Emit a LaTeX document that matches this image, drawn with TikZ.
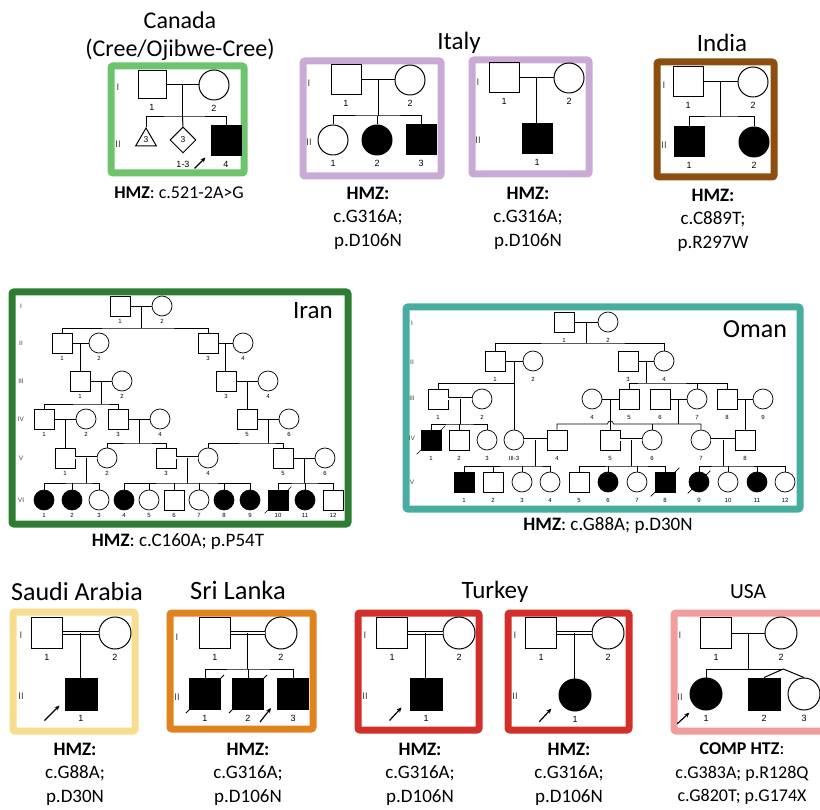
\documentclass[tikz,border=0pt]{standalone}
\usepackage{fontspec}
\setmainfont{Carlito}
\newfontfamily\pedfont{Liberation Sans}
\usetikzlibrary{arrows.meta,calc,positioning,shapes.geometric}
\definecolor{creegreen}{HTML}{6DC46D}
\definecolor{lilac}{HTML}{C8AAD5}
\definecolor{rust}{HTML}{8C4F10}
\definecolor{irangreen}{HTML}{2E7D32}
\definecolor{omanteal}{HTML}{47AE9F}
\definecolor{sand}{HTML}{F9DD8E}
\definecolor{amber}{HTML}{E0821E}
\definecolor{turkred}{HTML}{D22F2A}
\definecolor{rose}{HTML}{F29C9C}
\tikzset{
  countrybox/.style={line width=7pt, rounded corners=2pt},
  country/.style={font=\fontsize{25}{28}\selectfont, inner sep=0pt},
  mut/.style={font=\fontsize{19}{23.5}\selectfont, align=center, inner sep=0pt},
  ind/.style={draw, inner sep=0pt, line width=1pt},
  male/.style={ind, rectangle, minimum size=#1},
  male/.default=30pt,
  female/.style={ind, circle, minimum size=#1},
  female/.default=30pt,
  smale/.style={male=20pt},
  sfemale/.style={female=20pt},
  aff/.style={fill=black},
  unaff/.style={fill=white},
  num/.style={font=\pedfont\fontsize{9}{10}\selectfont, inner sep=1pt, yshift=-4pt},
  lb/.style={label={[num]below:#1}},
  gen/.style={font=\pedfont\fontsize{9.5}{10}\selectfont, text=black!75, inner sep=0pt},
  pline/.style={line width=1pt},
  consang/.style={double, double distance=2.2pt, line width=0.8pt},
  proband/.style={-{Stealth[length=5pt,width=4.5pt]}, line width=1.2pt},
  deceased/.style={line width=1pt}
}
\begin{document}
\begin{tikzpicture}[x=1pt,y=-1pt]
  \useasboundingbox (0,0) rectangle (820,810);

  % Canada
  \node[country, font=\fontsize{24}{26}\selectfont] (tCanada) at (180,20) {Canada};
  \node[country, font=\fontsize{24}{26}\selectfont] (tCree) at (180,50) {(Cree/Ojibwe-Cree)};
  \draw[countrybox, creegreen] (111,66) rectangle (244,173);
  \node[gen] (caGI) at (118,87) {I};
  \node[gen] (caGII) at (118,144) {II};
  \node[male=28pt, lb=1] (ca1) at (152,85) {};
  \node[female, lb=2] (ca2) at (214,85) {};
  \node[ind, regular polygon, regular polygon sides=3, minimum size=24pt, font=\pedfont\fontsize{8.5}{9}\selectfont] (caT) at (146,140) {3};
  \node[ind, diamond, aspect=1, minimum size=26pt, font=\pedfont\fontsize{8.5}{9}\selectfont,
        label={[num,yshift=-3pt]below:1-3}] (caD) at (183,140) {3};
  \node[male, aff, lb=4] (ca4) at (226,141) {};
  \draw[pline] (ca1) -- (ca2);
  \coordinate (caM) at ($(ca1.east)!.5!(ca2.west)$);
  \draw[pline] (caM) -- ++(0,32) coordinate (caS);
  \draw[pline] (caT.north) |- (caS) -| (ca4.north);
  \draw[pline] (caS) -- (caD.north);
  \draw[proband] ($(ca4.south west)+(-16,12)$) -- ($(ca4.south west)+(-5,1)$);
  \node[mut, font=\fontsize{18}{20}\selectfont] (mCanada) at (179,193) {\textbf{HMZ}: c.521-2A>G};

  % Italy
  \node[country] (tItaly) at (459,43) {Italy};
  \draw[countrybox, lilac] (303,61) rectangle (441,176);
  \node[gen] (itGI) at (309,83) {I};
  \node[gen] (itGII) at (309,142) {II};
  \node[male, lb=1] (it1) at (346,80) {};
  \node[female, lb=2] (it2) at (410,80) {};
  \node[female, lb=1] (it3) at (333,140) {};
  \node[female, aff, lb=2] (it4) at (377,140) {};
  \node[male, aff, lb=3] (it5) at (421,140) {};
  \draw[pline] (it1) -- (it2);
  \coordinate (itM) at ($(it1.east)!.5!(it2.west)$);
  \draw[pline] (itM) -- ++(0,36) coordinate (itS);
  \draw[pline] (it3.north) |- (itS) -| (it5.north);
  \draw[pline] (it4.north) -- (it4.north |- itS);
  \node[mut] (mItalyA) at (368,218) {\textbf{HMZ:}\\c.G316A;\\p.D106N};

  \draw[countrybox, lilac] (472,60) rectangle (589,174);
  \node[gen] (iuGI) at (478,82) {I};
  \node[gen] (iuGII) at (478,140) {II};
  \node[male, lb=1] (iu1) at (504,78) {};
  \node[female, lb=2] (iu2) at (569,78) {};
  \node[male, aff, lb=1] (iu3) at (537,139) {};
  \draw[pline] (iu1) -- (iu2);
  \coordinate (iuM) at ($(iu1.east)!.5!(iu2.west)$);
  \draw[pline] (iuM) -- (iuM |- iu3.north);
  \node[mut] (mItalyB) at (528,218) {\textbf{HMZ:}\\c.G316A;\\p.D106N};

  % India
  \node[country] (tIndia) at (722,43) {India};
  \draw[countrybox, rust] (657,62) rectangle (774,177);
  \node[gen] (inGI) at (664,85) {I};
  \node[gen] (inGII) at (664,145) {II};
  \node[male, lb=1] (in1) at (688,82) {};
  \node[female, lb=2] (in2) at (753,82) {};
  \node[male, aff, lb=1] (in3) at (689,142) {};
  \node[female, aff, lb=2] (in4) at (754,142) {};
  \draw[pline] (in1) -- (in2);
  \coordinate (inM) at ($(in1.east)!.5!(in2.west)$);
  \draw[pline] (inM) -- ++(0,35) coordinate (inS);
  \draw[pline] (in3.north) |- (inS) -| (in4.north);
  \node[mut] (mIndia) at (713,220) {\textbf{HMZ:}\\c.C889T;\\p.R297W};

  % Iran
  \begin{scope}[ind/.append style={line width=0.7pt}, pline/.append style={line width=0.7pt},
      consang/.append style={line width=0.6pt, double distance=1.8pt},
      num/.append style={font=\pedfont\fontsize{6}{7}\selectfont, yshift=2pt},
      gen/.append style={font=\pedfont\fontsize{6.5}{7}\selectfont},
      deceased/.append style={line width=0.7pt}]
    \draw[countrybox, irangreen] (12,292) rectangle (348,524);
    \node[country] (tIran) at (313,311) {Iran};
    \foreach \g/\y in {I/306, II/343, III/381, IV/419, V/458, VI/500}
      \node[gen] (irG\g) at (21,\y) {\g};
    \node[smale, lb=1] (irI1) at (120,306) {};
    \node[sfemale, lb=2] (irI2) at (162,306) {};
    \node[smale, lb=1] (irII1) at (62,343) {};
    \node[sfemale, lb=2] (irII2) at (99,343) {};
    \node[smale, lb=3] (irII3) at (208,343) {};
    \node[sfemale, lb=4] (irII4) at (243,343) {};
    \node[smale, lb=1] (irIII1) at (80,381) {};
    \node[sfemale, lb=2] (irIII2) at (122,381) {};
    \node[smale, lb=3] (irIII3) at (226,381) {};
    \node[sfemale, lb=4] (irIII4) at (268,381) {};
    \node[smale, lb=1] (irIV1) at (44,419) {};
    \node[sfemale, lb=2] (irIV2) at (86,419) {};
    \node[smale, lb=3] (irIV3) at (118,419) {};
    \node[sfemale, lb=4] (irIV4) at (160,419) {};
    \node[smale, lb=5] (irIV5) at (247,419) {};
    \node[sfemale, lb=6] (irIV6) at (289,419) {};
    \node[smale, lb=1] (irV1) at (65,458) {};
    \node[sfemale, lb=2] (irV2) at (107,458) {};
    \node[smale, lb=3] (irV3) at (166,458) {};
    \node[sfemale, lb=4] (irV4) at (208,458) {};
    \node[smale, lb=5] (irV5) at (283,458) {};
    \node[sfemale, lb=6] (irV6) at (325,458) {};
    \foreach \n/\x/\sym/\st in {1/44/sfemale/aff, 2/72/sfemale/aff, 3/99/sfemale/unaff,
        4/124/sfemale/aff, 5/149/sfemale/unaff, 6/174/smale/unaff, 7/199/sfemale/unaff,
        8/224/sfemale/aff, 9/250/sfemale/aff, 10/278/smale/aff, 11/305/sfemale/aff, 12/333/smale/unaff}
      \node[\sym, \st, lb=\n] (irVI\n) at (\x,500) {};
    % lines of descent
    \draw[pline] (irI1) -- (irI2);
    \coordinate (irM1) at ($(irI1.east)!.5!(irI2.west)$);
    \draw[pline] (irM1) -- ++(0,22) coordinate (irS1);
    \draw[pline] (irII1.north) |- (irS1) -| (irII3.north);
    \draw[pline] (irII1) -- (irII2);
    \coordinate (irM2) at ($(irII1.east)!.5!(irII2.west)$);
    \draw[pline] (irM2) -- (irM2 |- irIII1.north);
    \draw[pline] (irII3) -- (irII4);
    \coordinate (irM3) at ($(irII3.east)!.5!(irII4.west)$);
    \draw[pline] (irM3) -- (irM3 |- irIII3.north);
    \draw[pline] (irIII1) -- (irIII2);
    \coordinate (irM4) at ($(irIII1.east)!.5!(irIII2.west)$);
    \draw[pline] (irM4) -- ++(0,23) coordinate (irS4);
    \draw[pline] (irIV1.north) |- (irS4) -| (irIV3.north);
    \draw[pline] (irIII3) -- (irIII4);
    \coordinate (irM5) at ($(irIII3.east)!.5!(irIII4.west)$);
    \draw[pline] (irM5) -- (irM5 |- irIV5.north);
    \draw[pline] (irIV1) -- (irIV2);
    \coordinate (irM6) at ($(irIV1.east)!.5!(irIV2.west)$);
    \draw[pline] (irM6) -- (irM6 |- irV1.north);
    \draw[pline] (irIV3) -- (irIV4);
    \coordinate (irM7) at ($(irIV3.east)!.5!(irIV4.west)$);
    \draw[pline] (irM7) -- ++(0,24) coordinate (irS7);
    \draw[pline] (irV2.north) |- (irS7) -| (irV3.north);
    \draw[pline] (irIV5) -- (irIV6);
    \coordinate (irM8) at ($(irIV5.east)!.5!(irIV6.west)$);
    \draw[pline] (irM8) -- ++(0,24) coordinate (irS8);
    \draw[pline] (irV4.north) |- (irS8) -| (irV5.north);
    \draw[consang] (irV1) -- (irV2);
    \coordinate (irM9) at ($(irV1.east)!.5!(irV2.west)$);
    \draw[pline] (irM9) -- ++(0,25) coordinate (irS9);
    \draw[pline] (irVI1.north) |- (irS9) -| (irVI3.north);
    \draw[pline] (irVI2.north) -- (irVI2.north |- irS9);
    \draw[consang] (irV3) -- (irV4);
    \coordinate (irM10) at ($(irV3.east)!.5!(irV4.west)$);
    \draw[pline] (irM10) -- ++(0,25) coordinate (irS10);
    \draw[pline] (irVI4.north) |- (irS10) -| (irVI9.north);
    \foreach \n in {5,6,7,8}
      \draw[pline] (irVI\n.north) -- (irVI\n.north |- irS10);
    \draw[pline] (irV5) -- (irV6);
    \coordinate (irM11) at ($(irV5.east)!.5!(irV6.west)$);
    \draw[pline] (irM11) -- ++(0,25) coordinate (irS11);
    \draw[pline] (irVI10.north) |- (irS11) -| (irVI12.north);
    \draw[pline] (irVI11.north) -- (irVI11.north |- irS11);
    \draw[deceased] ($(irVI10.south west)+(-3,3)$) -- ($(irVI10.north east)+(3,-3)$);
  \end{scope}
  \node[mut] (mIran) at (178,542) {\textbf{HMZ}: c.C160A; p.P54T};

  % Oman
  \begin{scope}[ind/.append style={line width=0.7pt}, pline/.append style={line width=0.7pt},
      consang/.append style={line width=0.6pt, double distance=1.8pt},
      num/.append style={font=\pedfont\fontsize{6}{7}\selectfont, yshift=-1pt},
      gen/.append style={font=\pedfont\fontsize{6.5}{7}\selectfont},
      deceased/.append style={line width=0.7pt}]
    \draw[countrybox, omanteal] (406,307) rectangle (800,509);
    \node[country, font=\fontsize{26}{28}\selectfont] (tOman) at (755,329) {Oman};
    \foreach \g/\y in {I/323, II/362, III/398, IV/438, V/482}
      \node[gen] (omG\g) at (412,\y) {\g};
    \node[smale, lb=1] (omI1) at (564,322) {};
    \node[sfemale, lb=2] (omI2) at (608,322) {};
    \node[smale, lb=1] (omII1) at (495,361) {};
    \node[sfemale, lb=2] (omII2) at (533,361) {};
    \node[smale, lb=3] (omII3) at (628,361) {};
    \node[sfemale, lb=4] (omII4) at (664,361) {};
    \node[smale, lb=1] (omIII1) at (438,399) {};
    \node[sfemale, lb=2] (omIII2) at (482,399) {};
    \node[sfemale, lb=4] (omIII4) at (592,399) {};
    \node[smale, lb=5] (omIII5) at (629,399) {};
    \node[smale, lb=6] (omIII6) at (660,399) {};
    \node[sfemale, lb=7] (omIII7) at (697,399) {};
    \node[smale, lb=8] (omIII8) at (727,399) {};
    \node[sfemale, lb=9] (omIII9) at (763,399) {};
    \node[smale, aff, lb=1] (omIV1) at (431,440) {};
    \node[smale, lb=2] (omIV2) at (459,440) {};
    \node[sfemale, lb=3] (omIV3) at (487,440) {};
    \node[sfemale, lb=III-3] (omIII3) at (514,440) {};
    \node[smale, lb=4] (omIV4) at (557,440) {};
    \node[smale, lb=5] (omIV5) at (610,440) {};
    \node[sfemale, lb=6] (omIV6) at (652,440) {};
    \node[sfemale, lb=7] (omIV7) at (701,440) {};
    \node[smale, lb=8] (omIV8) at (745,440) {};
    \foreach \n/\x/\sym/\st in {1/464/smale/aff, 2/493/smale/unaff, 3/522/sfemale/unaff,
        4/550/sfemale/unaff, 5/579/smale/unaff, 6/608/sfemale/aff, 7/637/sfemale/unaff,
        8/665/smale/aff, 9/699/sfemale/aff, 10/728/sfemale/unaff, 11/757/sfemale/aff, 12/785/sfemale/unaff}
      \node[\sym, \st, lb=\n] (omV\n) at (\x,482) {};
    % lines of descent
    \draw[pline] (omI1) -- (omI2);
    \coordinate (omM1) at ($(omI1.east)!.5!(omI2.west)$);
    \draw[pline] (omM1) -- ++(0,21) coordinate (omS1);
    \draw[pline] (omII1.north) |- (omS1) -| (omII4.north);
    \draw[pline] (omII1) -- (omII2);
    \coordinate (omM2) at ($(omII1.east)!.5!(omII2.west)$);
    \draw[pline] (omM2) -- (omM2 |- omIII3.north);
    \draw[pline] (omIII1.north) |- ($(omM2)+(0,22)$);
    \draw[pline] (omII3) -- (omII4);
    \coordinate (omM3) at ($(omII3.east)!.5!(omII4.west)$);
    \draw[pline] (omM3) -- ++(0,22) coordinate (omS3);
    \draw[pline] (omIII5.north) |- (omS3) -| (omIII8.north);
    \draw[pline] (omIII7.north) -- (omIII7.north |- omS3);
    \draw[consang] (omIII1) -- (omIII2);
    \coordinate (omM4) at ($(omIII1.east)!.5!(omIII2.west)$);
    \draw[pline] (omM4) -- ++(0,25) coordinate (omS4);
    \draw[pline] (omIV1.north) |- (omS4) -| (omIV3.north);
    \draw[pline] (omIV2.north) -- (omIV2.north |- omS4);
    \draw[pline] (omIII4) -- (omIII5);
    \coordinate (omM5) at ($(omIII4.east)!.5!(omIII5.west)$);
    \draw[pline] (omM5) -- (omM5 |- omIV5.north);
    \draw[pline] (omIII6) -- (omIII7);
    \coordinate (omM6) at ($(omIII6.east)!.5!(omIII7.west)$);
    \draw[pline] (omM6) -- ++(0,25) coordinate (omS6);
    \coordinate (omHop) at (omM5 |- omS6);
    \draw[pline] (omIV4.north) |- ($(omHop)+(-3,0)$) .. controls +(0,-4) and +(0,-4) .. ($(omHop)+(3,0)$) -| (omIV7.north);
    \draw[pline] (omIV6.north) -- (omIV6.north |- omS6);
    \draw[pline] (omIII8) -- (omIII9);
    \coordinate (omM7) at ($(omIII8.east)!.5!(omIII9.west)$);
    \draw[pline] (omM7) -- (omM7 |- omIV8.north);
    \draw[consang] (omIII3) -- (omIV4);
    \coordinate (omM8) at ($(omIII3.east)!.5!(omIV4.west)$);
    \draw[pline] (omM8) -- ++(0,26) coordinate (omS8);
    \draw[pline] (omV1.north) |- (omS8) -| (omV4.north);
    \foreach \n in {2,3}
      \draw[pline] (omV\n.north) -- (omV\n.north |- omS8);
    \draw[consang] (omIV5) -- (omIV6);
    \coordinate (omM9) at ($(omIV5.east)!.5!(omIV6.west)$);
    \draw[pline] (omM9) -- ++(0,26) coordinate (omS9);
    \draw[pline] (omV5.north) |- (omS9) -| (omV8.north);
    \foreach \n in {6,7}
      \draw[pline] (omV\n.north) -- (omV\n.north |- omS9);
    \draw[consang] (omIV7) -- (omIV8);
    \coordinate (omM10) at ($(omIV7.east)!.5!(omIV8.west)$);
    \draw[pline] (omM10) -- ++(0,26) coordinate (omS10);
    \draw[pline] (omV9.north) |- (omS10) -| (omV12.north);
    \foreach \n in {10,11}
      \draw[pline] (omV\n.north) -- (omV\n.north |- omS10);
    \foreach \p in {omIV1, omV8, omV9}
      \draw[deceased] ($(\p.south west)+(-4,4)$) -- ($(\p.north east)+(4,-4)$);
  \end{scope}
  \node[mut] (mOman) at (608,526) {\textbf{HMZ}: c.G88A; p.D30N};

  % Saudi Arabia
  \node[country, font=\fontsize{26}{28}\selectfont] (tSaudi) at (77,592) {Saudi Arabia};
  \draw[countrybox, sand] (13,612) rectangle (135,731);
  \node[gen] (saGI) at (21,635) {I};
  \node[gen] (saGII) at (21,696) {II};
  \node[male=31pt, lb=1] (sa1) at (47,633) {};
  \node[female=32pt, lb=2] (sa2) at (115,633) {};
  \node[male=32pt, aff, lb=1] (sa3) at (81,694) {};
  \draw[consang] (sa1) -- (sa2);
  \coordinate (saM) at ($(sa1.east)!.5!(sa2.west)$);
  \draw[pline] (saM) -- (saM |- sa3.north);
  \draw[proband] ($(sa3.south west)+(-20,10)$) -- ($(sa3.south west)+(-5,-5)$);
  \node[mut] (mSaudi) at (75,774) {\textbf{HMZ:}\\c.G88A;\\p.D30N};

  % Sri Lanka
  \node[country, font=\fontsize{26.5}{28}\selectfont] (tSri) at (238,590) {Sri Lanka};
  \draw[countrybox, amber] (170,613) rectangle (313,729);
  \node[gen] (slGI) at (177,637) {I};
  \node[gen] (slGII) at (177,697) {II};
  \node[male=31pt, lb=1] (sl1) at (215,633) {};
  \node[female=32pt, lb=2] (sl2) at (281,633) {};
  \node[male=31pt, aff, lb=1] (sl3) at (205,694) {};
  \node[male=31pt, aff, lb=2] (sl4) at (248,694) {};
  \node[male=31pt, aff, lb=3] (sl5) at (293,694) {};
  \draw[consang] (sl1) -- (sl2);
  \coordinate (slM) at ($(sl1.east)!.5!(sl2.west)$);
  \draw[pline] (slM) -- ++(0,36) coordinate (slS);
  \draw[pline] (sl3.north) |- (slS) -| (sl5.north);
  \draw[pline] (sl4.north) -- (sl4.north |- slS);
  \foreach \p in {sl3, sl4}
    \draw[deceased] ($(\p.south west)+(-3,3)$) -- ($(\p.north east)+(3,-3)$);
  \draw[proband] ($(sl5.south west)+(-17,12)$) -- ($(sl5.south west)+(-6,-2)$);
  \node[mut] (mSri) at (248,774) {\textbf{HMZ:}\\c.G316A;\\p.D106N};

  % Turkey
  \node[country] (tTurkey) at (495,592) {Turkey};
  \draw[countrybox, turkred] (358,613) rectangle (479,730);
  \node[gen] (tuGI) at (365,635) {I};
  \node[gen] (tuGII) at (365,696) {II};
  \node[male=31pt, lb=1] (tu1) at (392,633) {};
  \node[female=32pt, lb=2] (tu2) at (459,633) {};
  \node[male=32pt, aff, lb=1] (tu3) at (426,694) {};
  \draw[consang] (tu1) -- (tu2);
  \coordinate (tuM) at ($(tu1.east)!.5!(tu2.west)$);
  \draw[pline] (tuM) -- (tuM |- tu3.north);
  \draw[proband] ($(tu3.south west)+(-20,10)$) -- ($(tu3.south west)+(-8,-3)$);
  \node[mut] (mTurkeyA) at (420,774) {\textbf{HMZ:}\\c.G316A;\\p.D106N};

  \draw[countrybox, turkred] (508,613) rectangle (629,730);
  \node[gen] (tvGI) at (515,635) {I};
  \node[gen] (tvGII) at (515,696) {II};
  \node[male=31pt, lb=1] (tv1) at (541,633) {};
  \node[female=32pt, lb=2] (tv2) at (608,633) {};
  \node[female=32pt, aff, lb=1] (tv3) at (575,695) {};
  \draw[consang] (tv1) -- (tv2);
  \coordinate (tvM) at ($(tv1.east)!.5!(tv2.west)$);
  \draw[pline] (tvM) -- (tvM |- tv3.north);
  \draw[proband] ($(tv3.south west)+(-24,15)$) -- ($(tv3.south west)+(-12,2)$);
  \node[mut] (mTurkeyB) at (569,774) {\textbf{HMZ:}\\c.G316A;\\p.D106N};

  % USA
  \node[country, font=\fontsize{21.5}{24}\selectfont] (tUSA) at (748,592) {USA};
  \begin{scope}
    \clip (0,0) rectangle (820,810);
    \draw[countrybox, rose] (674,613) rectangle (840,731);
  \end{scope}
  \node[gen] (usGI) at (680,635) {I};
  \node[gen] (usGII) at (680,697) {II};
  \node[male=31pt, lb=1] (us1) at (716,633) {};
  \node[female=32pt, lb=2] (us2) at (781,633) {};
  \node[female=32pt, aff, lb=1] (us3) at (706,694) {};
  \node[male=32pt, aff, lb=2] (us4) at (764,694) {};
  \node[female=32pt, lb=3] (us5) at (804,694) {};
  \draw[pline] (us1) -- (us2);
  \coordinate (usM) at ($(us1.east)!.5!(us2.west)$);
  \draw[pline] (usM) -- ++(0,36) coordinate (usS);
  \coordinate (usTw) at ($(usS)+(35,0)$);
  \draw[pline] (us3.north) |- (usTw);
  \draw[pline] (us4.north) -- (usTw) -- (us5.north);
  \draw[proband] ($(us3.south west)+(-17,18)$) -- ($(us3.south west)+(-5,7)$);
  \node[mut, font=\fontsize{18}{23.5}\selectfont] (mUSA) at (742,774) {\textbf{COMP HTZ}:\\c.G383A; p.R128Q\\c.G820T; p.G174X};
\end{tikzpicture}
\end{document}
